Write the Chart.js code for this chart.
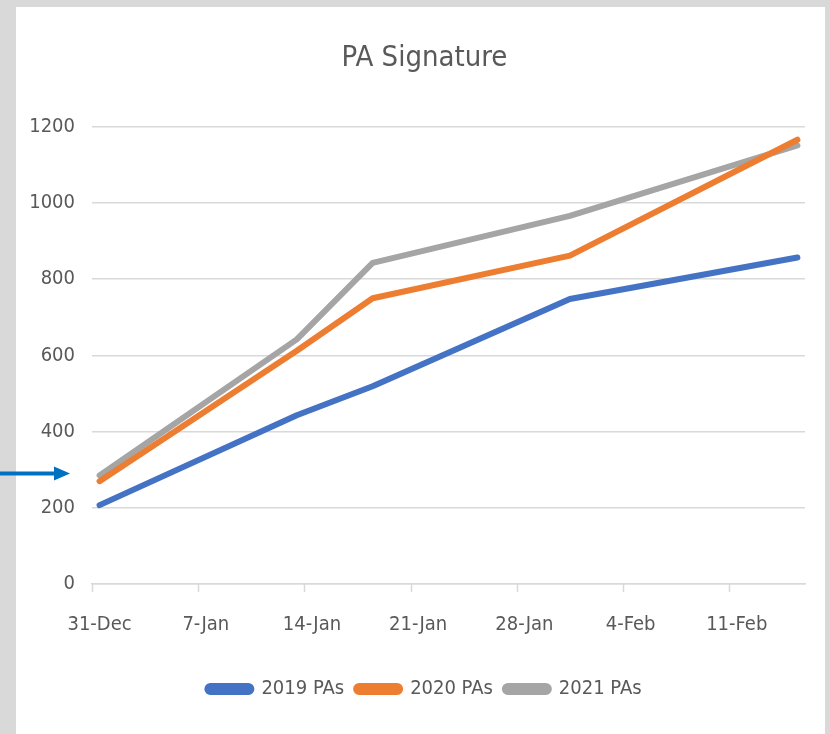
<!DOCTYPE html>
<html>
<head>
<meta charset="utf-8">
<script src="https://cdn.jsdelivr.net/npm/chart.js@4/dist/chart.umd.min.js"></script>
<style>
  html, body { margin: 0; padding: 0; background: #d9d9d9; }
  #wrap { width: 830px; height: 734px; position: relative; }
</style>
</head>
<body>
<div id="wrap"><canvas id="chart"></canvas></div>
<script>
// days counted from 31-Dec
const pointDays = [0, 13, 18, 31, 46];
const pas2019 = [207, 443, 519, 748, 857];
const pas2020 = [270, 612, 750, 862, 1166];
const pas2021 = [285, 642, 843, 966, 1151];

const xTickDays = [0, 7, 14, 21, 28, 35, 42];
const xTickLabels = ['31-Dec', '7-Jan', '14-Jan', '21-Jan', '28-Jan', '4-Feb', '11-Feb'];
const arrowAt = 290;

const FONT = '"DejaVu Sans Condensed", "DejaVu Sans", sans-serif';
const GREY_TEXT = '#595959';
const GRID = '#d9d9d9';

function toPoints(vals) {
  return vals.map((v, i) => ({ x: pointDays[i], y: v }));
}

const decor = {
  id: 'decor',
  beforeDraw(chart) {
    const { ctx, width, height } = chart;
    ctx.save();
    ctx.fillStyle = '#d9d9d9';
    ctx.fillRect(0, 0, width, height);
    ctx.fillStyle = '#ffffff';
    ctx.fillRect(16, 7, 809, height - 7);
    ctx.restore();
  },
  afterDraw(chart) {
    const { ctx } = chart;
    const xs = chart.scales.x, ys = chart.scales.y;
    const base = ys.getPixelForValue(0);
    ctx.save();
    // tick marks sit on the day boundaries, like Excel's date axis
    ctx.strokeStyle = GRID;
    ctx.lineWidth = 1.5;
    xTickDays.forEach(d => {
      const px = Math.round(xs.getPixelForValue(d - 0.5)) + 0.5;
      ctx.beginPath();
      ctx.moveTo(px, base);
      ctx.lineTo(px, base + 8);
      ctx.stroke();
    });
    // blue arrow on the left
    const ay = ys.getPixelForValue(arrowAt);
    ctx.strokeStyle = '#0070C0';
    ctx.fillStyle = '#0070C0';
    ctx.lineWidth = 4;
    ctx.beginPath();
    ctx.moveTo(0, ay);
    ctx.lineTo(56, ay);
    ctx.stroke();
    ctx.beginPath();
    ctx.moveTo(54, ay - 7);
    ctx.lineTo(70, ay);
    ctx.lineTo(54, ay + 7);
    ctx.closePath();
    ctx.fill();
    ctx.restore();
  }
};

function line(label, vals, color) {
  return {
    label: label,
    data: toPoints(vals),
    borderColor: color,
    backgroundColor: color,
    borderWidth: 6,
    borderCapStyle: 'round',
    borderJoinStyle: 'round',
    pointRadius: 0,
    tension: 0
  };
}

new Chart(document.getElementById('chart'), {
  type: 'line',
  data: {
    datasets: [
      line('2019 PAs', pas2019, '#4472C4'),
      line('2020 PAs', pas2020, '#ED7D31'),
      line('2021 PAs', pas2021, '#A5A5A5')
    ]
  },
  plugins: [decor],
  options: {
    responsive: true,
    maintainAspectRatio: false,
    animation: false,
    layout: { padding: { left: 30, top: 7, right: 11, bottom: 25 } },
    plugins: {
      tooltip: { enabled: false },
      title: {
        display: true,
        text: 'PA Signature',
        color: GREY_TEXT,
        font: { family: FONT, size: 29, weight: 'normal' },
        padding: { top: 34, bottom: 51 }
      },
      legend: {
        position: 'bottom',
        labels: {
          color: GREY_TEXT,
          font: { family: FONT, size: 20 },
          boxWidth: 44,
          boxHeight: 6,
          padding: 12,
          useBorderRadius: true,
          borderRadius: 3
        }
      }
    },
    scales: {
      x: {
        type: 'linear',
        min: -0.5,
        max: 46.5,
        afterBuildTicks(scale) {
          scale.ticks = xTickDays.map(v => ({ value: v }));
        },
        afterFit(scale) { scale.height = 83; },
        ticks: {
          color: GREY_TEXT,
          font: { family: FONT, size: 20 },
          padding: 29,
          maxRotation: 0,
          autoSkip: false,
          callback: (v) => xTickLabels[xTickDays.indexOf(v)]
        },
        grid: { display: true, drawOnChartArea: false, drawTicks: false },
        border: { display: true, color: GRID, width: 1.5 }
      },
      y: {
        min: 0,
        max: 1200,
        afterFit(scale) { scale.width = 62; },
        ticks: {
          stepSize: 200,
          color: GREY_TEXT,
          font: { family: FONT, size: 20 },
          padding: 17,
          callback: (v) => String(v)
        },
        grid: { color: GRID, lineWidth: 1.5, drawTicks: false },
        border: { display: false }
      },
      // empty right-hand axis, only keeps the plot clear of the right edge
      yRight: {
        position: 'right',
        display: true,
        afterFit(scale) { scale.width = 14; },
        ticks: { display: false },
        grid: { display: false, drawTicks: false },
        border: { display: false }
      }
    }
  }
});
</script>
</body>
</html>
